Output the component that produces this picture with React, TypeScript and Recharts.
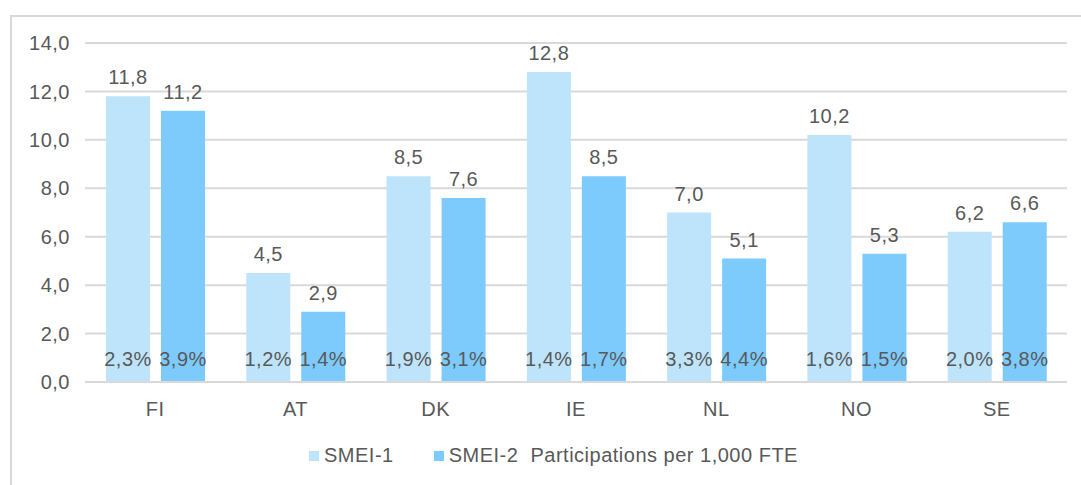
import { BarChart, Bar, XAxis, YAxis, CartesianGrid, Legend, LabelList } from 'recharts'

// Countries on the x axis
const countries = ['FI', 'AT', 'DK', 'IE', 'NL', 'NO', 'SE']
// Participations per 1,000 FTE
const smei1 = [11.8, 4.5, 8.5, 12.8, 7.0, 10.2, 6.2]
const smei2 = [11.2, 2.9, 7.6, 8.5, 5.1, 5.3, 6.6]
// share shown at bottom of each bar (%)
const share1 = [2.3, 1.2, 1.9, 1.4, 3.3, 1.6, 2.0]
const share2 = [3.9, 1.4, 3.1, 1.7, 4.4, 1.5, 3.8]
const yTicks = [0, 2, 4, 6, 8, 10, 12, 14]

const data = countries.map((c, i) => ({
  country: c,
  s1: smei1[i],
  s2: smei2[i],
  p1: share1[i],
  p2: share2[i],
}))

const TEXT = '#595959'
const LIGHT = '#BEE4FC'
const DARK = '#7DCAFD'
const FONT = "'Liberation Sans', Arial, sans-serif"
const textStyle = { fontSize: 20, fontFamily: FONT, letterSpacing: 0.5 }

const fmt = (v: number) => v.toFixed(1).replace('.', ',')

// percentage label drawn near the bottom of the bar
function ShareLabel(props: any) {
  const { x, y, width, height, value } = props
  return (
    <text
      x={x + width / 2}
      y={y + height - 16}
      textAnchor="middle"
      fill={TEXT}
      style={textStyle}
    >
      {fmt(value) + '%'}
    </text>
  )
}

function ChartLegend() {
  const items = [
    { color: LIGHT, label: 'SMEI-1' },
    { color: DARK, label: 'SMEI-2  Participations per 1,000 FTE' },
  ]
  return (
    <div style={{ display: 'flex', alignItems: 'center', gap: 40, color: TEXT, ...textStyle }}>
      {items.map(it => (
        <div key={it.label} style={{ display: 'flex', alignItems: 'center', whiteSpace: 'pre' }}>
          <span style={{ width: 10, height: 10, background: it.color, marginRight: 5, display: 'inline-block' }} />
          {it.label}
        </div>
      ))}
    </div>
  )
}

export default function App() {
  return (
    <div style={{ position: 'absolute', left: 0, top: 0, width: 1081, height: 485, background: '#fff', overflow: 'hidden' }}>
      <div
        style={{
          position: 'absolute', left: 10, top: 15, width: 1200, height: 600,
          borderTop: '2px solid #d9d9d9', borderLeft: '2px solid #d9d9d9',
        }}
      />
      <div style={{ position: 'absolute', left: 0, top: 0 }}>
        <BarChart
          width={1081}
          height={485}
          data={data}
          margin={{ top: 43, right: 14, left: 25, bottom: 50 }}
          barSize={44}
          barGap={11}
        >
          <CartesianGrid vertical={false} stroke="#d9d9d9" strokeWidth={2} />
          <XAxis
            dataKey="country"
            height={30}
            axisLine={{ stroke: '#d9d9d9', strokeWidth: 2 }}
            tickLine={false}
            tickSize={0}
            tickMargin={20}
            tick={{ fill: TEXT, ...textStyle }}
          />
          <YAxis
            width={60}
            domain={[0, 14]}
            ticks={yTicks}
            axisLine={false}
            tickLine={false}
            tickSize={0}
            tickMargin={15}
            tickFormatter={fmt}
            tick={{ fill: TEXT, ...textStyle }}
          />
          <Legend
            content={<ChartLegend />}
            wrapperStyle={{ position: 'absolute', top: 444, left: 309, width: 'auto', height: 'auto' }}
          />
          <Bar dataKey="s1" fill={LIGHT} isAnimationActive={false}>
            <LabelList dataKey="s1" position="top" offset={12} formatter={(v: any) => fmt(v)} style={{ fill: TEXT, ...textStyle }} />
            <LabelList dataKey="p1" content={<ShareLabel />} />
          </Bar>
          <Bar dataKey="s2" fill={DARK} isAnimationActive={false}>
            <LabelList dataKey="s2" position="top" offset={12} formatter={(v: any) => fmt(v)} style={{ fill: TEXT, ...textStyle }} />
            <LabelList dataKey="p2" content={<ShareLabel />} />
          </Bar>
        </BarChart>
      </div>
    </div>
  )
}
